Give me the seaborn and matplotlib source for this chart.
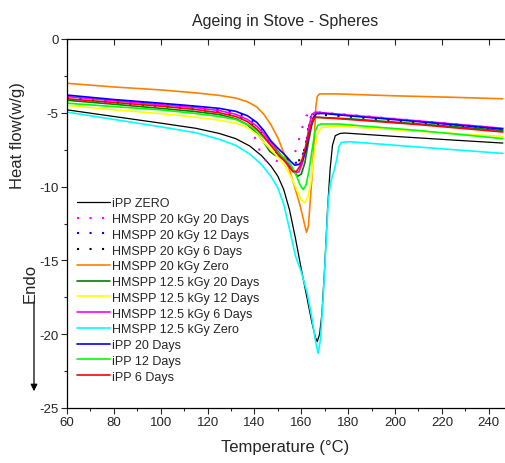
import matplotlib
matplotlib.use('Agg')
import matplotlib.pyplot as plt
from matplotlib.ticker import MultipleLocator
import seaborn as sns

# DSC curves (temperature in C, heat flow in W/g)
T_ipp_zero = [60, 80, 100, 115, 125, 132, 138, 143, 147, 150, 152.5, 155, 157.5, 160, 162.5, 164.5, 166,
              166.8, 167.8, 168.8, 170, 171.2, 172.3, 173.3, 174.5, 176.5, 178.5, 200, 225, 246]
hf_ipp_zero = [-4.8, -5.25, -5.7, -6.05, -6.4, -6.75, -7.25, -7.9, -8.6, -9.3, -10.2, -11.6, -13.5, -15.6,
               -17.6, -19.2, -20.2, -20.5, -20.0, -18.6, -15.4, -11.5, -8.8, -7.2, -6.55, -6.4, -6.37,
               -6.6, -6.85, -7.05]

T_20k_20d = [60, 80, 100, 115, 125, 132, 136, 139, 141, 143, 145, 147.5, 150, 152.5, 155.5, 157.5, 159,
             160.6, 162.2, 164, 180, 210, 246]
hf_20k_20d = [-3.9, -4.18, -4.45, -4.65, -4.85, -5.15, -5.5, -6.2, -7.0, -7.9, -8.25, -8.1, -8.3, -8.4,
              -8.2, -7.6, -6.8, -5.9, -5.2, -5.0, -5.15, -5.55, -6.1]

T_20k_12d = [60, 80, 100, 115, 125, 132, 137, 141, 144, 147, 150, 153, 157, 160, 162, 163.5, 165, 180, 210, 246]
hf_20k_12d = [-3.85, -4.15, -4.4, -4.6, -4.77, -5.0, -5.3, -5.8, -6.4, -7.1, -7.7, -8.1, -8.45, -8.2, -7.0,
              -5.5, -4.95, -5.15, -5.55, -6.1]

T_20k_6d = [60, 80, 100, 115, 125, 132, 137, 141, 144, 147, 150, 153, 157, 160, 162, 163.5, 165, 180, 210, 246]
hf_20k_6d = [-4.0, -4.3, -4.55, -4.78, -4.95, -5.2, -5.5, -6.0, -6.6, -7.2, -7.8, -8.1, -8.25, -8.2, -7.1,
             -5.7, -5.1, -5.25, -5.65, -6.2]

T_20k_zero = [60, 80, 100, 115, 125, 132, 137, 141, 144, 147, 150, 152.5, 155, 157.5, 159.5, 161, 162.2,
              163, 163.8, 164.8, 165.6, 166.2, 166.8, 167.8, 175, 200, 225, 246]
hf_20k_zero = [-3.0, -3.25, -3.45, -3.65, -3.82, -4.0, -4.25, -4.6, -5.1, -5.8, -6.7, -7.7, -8.9, -10.2,
               -11.3, -12.3, -13.1, -12.7, -11.0, -8.8, -6.5, -4.6, -3.9, -3.72, -3.72, -3.85, -3.95, -4.05]

T_12k_20d = [60, 80, 100, 115, 125, 132, 137, 141, 144, 146.5, 148.5, 151, 153.5, 156, 158.5, 160, 161.5,
             163, 164.5, 165.8, 180, 210, 246]
hf_12k_20d = [-4.15, -4.42, -4.7, -4.92, -5.12, -5.4, -5.8, -6.4, -7.0, -7.6, -7.85, -8.0, -8.3, -8.8, -9.3,
              -9.15, -8.4, -7.0, -5.8, -5.3, -5.4, -5.75, -6.2]

T_12k_12d = [60, 80, 100, 115, 125, 132, 137, 141, 144, 147, 150, 153, 155.5, 158, 160, 161.5, 162.8, 164,
             165, 166, 167, 168.5, 176, 210, 246]
hf_12k_12d = [-4.5, -4.8, -5.05, -5.3, -5.5, -5.7, -6.0, -6.45, -7.0, -7.5, -8.0, -8.6, -9.3, -10.2, -10.9,
              -11.1, -10.7, -9.8, -8.5, -7.2, -6.4, -6.0, -5.9, -6.25, -6.6]

T_12k_6d = [60, 80, 100, 115, 125, 132, 137, 141, 144, 147, 150, 153, 155.5, 157.5, 159, 160.5, 162, 163.3,
            164.5, 166, 180, 210, 246]
hf_12k_6d = [-3.9, -4.18, -4.45, -4.65, -4.85, -5.1, -5.45, -5.9, -6.4, -7.0, -7.6, -8.2, -8.7, -9.05, -9.0,
             -8.4, -7.2, -5.9, -5.1, -4.95, -5.15, -5.55, -6.05]

T_12k_zero = [60, 80, 100, 115, 125, 132, 138, 143, 147, 150, 152.5, 155, 157.5, 160, 162.5, 164.5, 166.2,
              167.2, 168.2, 169.3, 170.5, 171.5, 172.5, 174, 175.2, 176, 177.1, 180.7, 200, 225, 246]
hf_12k_zero = [-4.95, -5.45, -5.95, -6.35, -6.8, -7.2, -7.8, -8.5, -9.3, -10.1, -11.2, -12.9, -14.7, -15.8,
               -17.2, -18.9, -20.6, -21.3, -20.3, -17.6, -14.0, -11.0, -9.7, -8.9, -8.1, -7.3, -7.0, -6.96,
               -7.2, -7.5, -7.75]

T_ipp_20d = [60, 80, 100, 115, 125, 132, 137, 141, 144, 147, 150, 153, 155.5, 157.2, 159, 160.5, 162, 163.5,
             165, 166.5, 170, 180, 210, 246]
hf_ipp_20d = [-3.8, -4.1, -4.35, -4.55, -4.7, -4.9, -5.2, -5.65, -6.2, -6.9, -7.4, -7.85, -8.3, -8.55, -8.5,
              -8.25, -7.5, -6.3, -5.35, -5.05, -5.05, -5.2, -5.6, -6.1]

T_ipp_12d = [60, 80, 100, 115, 125, 132, 137, 141, 144, 147, 150, 153, 155.5, 158, 159.5, 160.8, 162, 163.3,
             164.5, 165.8, 167, 168.5, 176, 210, 246]
hf_ipp_12d = [-4.35, -4.58, -4.8, -5.05, -5.25, -5.45, -5.8, -6.2, -6.7, -7.2, -7.7, -8.1, -8.5, -9.3, -9.9,
              -10.2, -9.9, -8.9, -7.6, -6.3, -5.85, -5.76, -5.76, -6.2, -6.75]

T_ipp_6d = [60, 80, 100, 115, 125, 132, 137, 141, 144, 147, 150, 153, 155, 156.5, 158, 159.5, 161, 162.5,
            164, 165, 166, 176, 210, 246]
hf_ipp_6d = [-4.05, -4.3, -4.55, -4.78, -5.0, -5.25, -5.6, -6.1, -6.6, -7.2, -7.8, -8.3, -8.7, -9.0, -8.95,
             -8.6, -7.8, -6.9, -5.9, -5.42, -5.3, -5.4, -5.8, -6.3]

dotted = (0, (1, 5))
series = [
    ('iPP ZERO', T_ipp_zero, hf_ipp_zero, 'black', '-', 0.9),
    ('HMSPP 20 kGy 20 Days', T_20k_20d, hf_20k_20d, '#ff00ff', dotted, 1.5),
    ('HMSPP 20 kGy 12 Days', T_20k_12d, hf_20k_12d, '#0000ff', dotted, 1.5),
    ('HMSPP 20 kGy 6 Days', T_20k_6d, hf_20k_6d, 'black', dotted, 1.5),
    ('HMSPP 20 kGy Zero', T_20k_zero, hf_20k_zero, '#ff8000', '-', 1.2),
    ('HMSPP 12.5 kGy 20 Days', T_12k_20d, hf_12k_20d, '#008000', '-', 1.2),
    ('HMSPP 12.5 kGy 12 Days', T_12k_12d, hf_12k_12d, '#ffff00', '-', 1.2),
    ('HMSPP 12.5 kGy 6 Days', T_12k_6d, hf_12k_6d, '#ff00ff', '-', 1.2),
    ('HMSPP 12.5 kGy Zero', T_12k_zero, hf_12k_zero, '#00ffff', '-', 1.2),
    ('iPP 20 Days', T_ipp_20d, hf_ipp_20d, '#0000ff', '-', 1.2),
    ('iPP 12 Days', T_ipp_12d, hf_ipp_12d, '#00ff00', '-', 1.2),
    ('iPP 6 Days', T_ipp_6d, hf_ipp_6d, '#ff0000', '-', 1.2),
]

sns.set_style('ticks')
plt.rcParams['font.family'] = ['Liberation Sans', 'DejaVu Sans']
plt.rcParams['axes.unicode_minus'] = False

fig = plt.figure(figsize=(5.05, 4.64), dpi=100)
ax = fig.add_axes([67 / 505, 55 / 464, 437 / 505, 369 / 464])

for label, t, hf, color, ls, lw in series:
    sns.lineplot(x=t, y=hf, color=color, linestyle=ls, linewidth=lw, label=label,
                 sort=False, estimator=None, ax=ax)

ax.set_xlim(60, 246.5)
ax.set_ylim(-25, 0)
ax.xaxis.set_major_locator(MultipleLocator(20))
ax.xaxis.set_minor_locator(MultipleLocator(10))
ax.yaxis.set_major_locator(MultipleLocator(5))
ax.yaxis.set_minor_locator(MultipleLocator(2.5))
ax.tick_params(axis='both', which='major', direction='out', length=4, width=0.8, labelsize=9.5, pad=2)
ax.tick_params(axis='both', which='minor', direction='out', length=2.5, width=0.8)
ax.tick_params(top=True, which='major', labeltop=False)
ax.spines['right'].set_visible(False)
for s in ['left', 'bottom', 'top']:
    ax.spines[s].set_linewidth(0.9)
    ax.spines[s].set_color('black')

# top ticks point inward like the original
for tk in ax.xaxis.get_major_ticks():
    tk.tick2line.set_marker(matplotlib.lines.TICKDOWN)

ax.set_title('Ageing in Stove - Spheres', fontsize=11.5, pad=10)
ax.set_xlabel('Temperature (\u00b0C)', fontsize=12, labelpad=8)
ax.set_ylabel('Heat flow(w/g)', fontsize=12)
ax.yaxis.set_label_coords(-0.095, 0.74)

# Endo arrow
fig.text(30 / 505, 1 - 283 / 464, 'Endo', rotation=90, fontsize=12, ha='center', va='center')
ax.annotate('', xy=(34 / 505, 1 - 395 / 464), xytext=(34 / 505, 1 - 300 / 464),
            xycoords='figure fraction', textcoords='figure fraction',
            arrowprops=dict(arrowstyle='-|>', color='black', lw=0.9, mutation_scale=10))

ax.legend(loc='upper left', bbox_to_anchor=(0.024, 0.571), frameon=False, fontsize=9,
          handlelength=2.6, handletextpad=0.2, labelspacing=0.3, borderaxespad=0, borderpad=0)

fig.savefig('out.png', dpi=100)
